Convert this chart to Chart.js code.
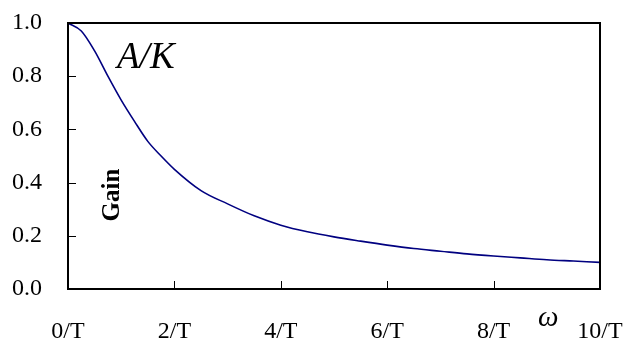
<!DOCTYPE html>
<html>
<head>
<meta charset="utf-8">
<script src="https://cdn.jsdelivr.net/npm/chart.js@4.4.1/dist/chart.umd.min.js"></script>
<style>
html,body{margin:0;padding:0;background:#fff;}
#wrap{width:626px;height:340px;}
</style>
</head>
<body>
<div id="wrap"><canvas id="gainChart" width="626" height="340"></canvas></div>
<script>
// omega*T values and gain
const omegaT = [0, 0.25, 0.5, 0.75, 1, 1.25, 1.5, 1.75, 2, 2.5, 3, 3.5, 4, 4.5, 5, 5.5, 6, 6.5, 7, 7.5, 8, 8.5, 9, 9.5, 10];
const gain = [1.0, 0.97, 0.895, 0.8, 0.71, 0.63, 0.555, 0.5, 0.45, 0.37, 0.32, 0.275, 0.24, 0.215, 0.196, 0.18, 0.165, 0.152, 0.142, 0.132, 0.124, 0.117, 0.11, 0.105, 0.1];
const yTicks = [0, 0.2, 0.4, 0.6, 0.8, 1.0];
const xTicks = [0, 2, 4, 6, 8, 10];

const serif = '"Liberation Serif", "Times New Roman", serif';

// frame, inside tick marks and free text
const decor = {
  id: 'decor',
  afterDraw(chart) {
    const c = chart.ctx, a = chart.chartArea;
    const xs = chart.scales.x, ys = chart.scales.y;
    c.save();
    c.strokeStyle = '#000';
    c.lineWidth = 2;
    c.strokeRect(a.left, a.top, a.right - a.left, a.bottom - a.top);
    c.lineWidth = 1;
    c.beginPath();
    yTicks.slice(1, -1).forEach(v => {
      const y = Math.round(ys.getPixelForValue(v)) + 0.5;
      c.moveTo(a.left, y); c.lineTo(a.left + 8, y);
    });
    xTicks.slice(1, -1).forEach(v => {
      const x = Math.round(xs.getPixelForValue(v)) + 0.5;
      c.moveTo(x, a.bottom); c.lineTo(x, a.bottom - 8);
    });
    c.stroke();

    c.fillStyle = '#000';
    c.font = 'italic 37px ' + serif;
    c.textBaseline = 'alphabetic';
    c.fillText('A/K', 117, 68);

    c.font = 'italic 29px ' + serif;
    c.fillText('\u03C9', 538, 326);

    c.translate(119, 195);
    c.rotate(-Math.PI / 2);
    c.font = 'bold 25px ' + serif;
    c.textAlign = 'center';
    c.fillText('Gain', 0, 0);
    c.restore();
  }
};

function noPad(s) {
  s.paddingLeft = 0; s.paddingRight = 0; s.paddingTop = 0; s.paddingBottom = 0;
}

new Chart(document.getElementById('gainChart'), {
  type: 'line',
  data: {
    labels: omegaT,
    datasets: [{
      label: 'Gain',
      data: omegaT.map((w, i) => ({x: w, y: gain[i]})),
      borderColor: '#000080',
      borderWidth: 1.6,
      pointRadius: 0,
      cubicInterpolationMode: 'monotone',
      fill: false
    }]
  },
  options: {
    responsive: false,
    animation: false,
    layout: {padding: {top: 23, right: 26, left: 0, bottom: 0}},
    plugins: {legend: {display: false}, tooltip: {enabled: false}},
    scales: {
      x: {
        type: 'linear',
        min: 0, max: 10,
        afterBuildTicks: s => { s.ticks = xTicks.map(v => ({value: v})); },
        afterFit: s => { s.height = 51; noPad(s); },
        grid: {display: false, drawTicks: false},
        border: {display: false},
        ticks: {
          color: '#000',
          padding: 28,
          maxRotation: 0,
          font: {family: serif, size: 24},
          callback: v => v + '/T'
        }
      },
      y: {
        min: 0, max: 1,
        afterBuildTicks: s => { s.ticks = yTicks.map(v => ({value: v})); },
        afterFit: s => { s.width = 68; noPad(s); },
        grid: {display: false, drawTicks: false},
        border: {display: false},
        ticks: {
          color: '#000',
          padding: 26,
          font: {family: serif, size: 24},
          callback: v => v.toFixed(1)
        }
      }
    }
  },
  plugins: [decor]
});
</script>
</body>
</html>
